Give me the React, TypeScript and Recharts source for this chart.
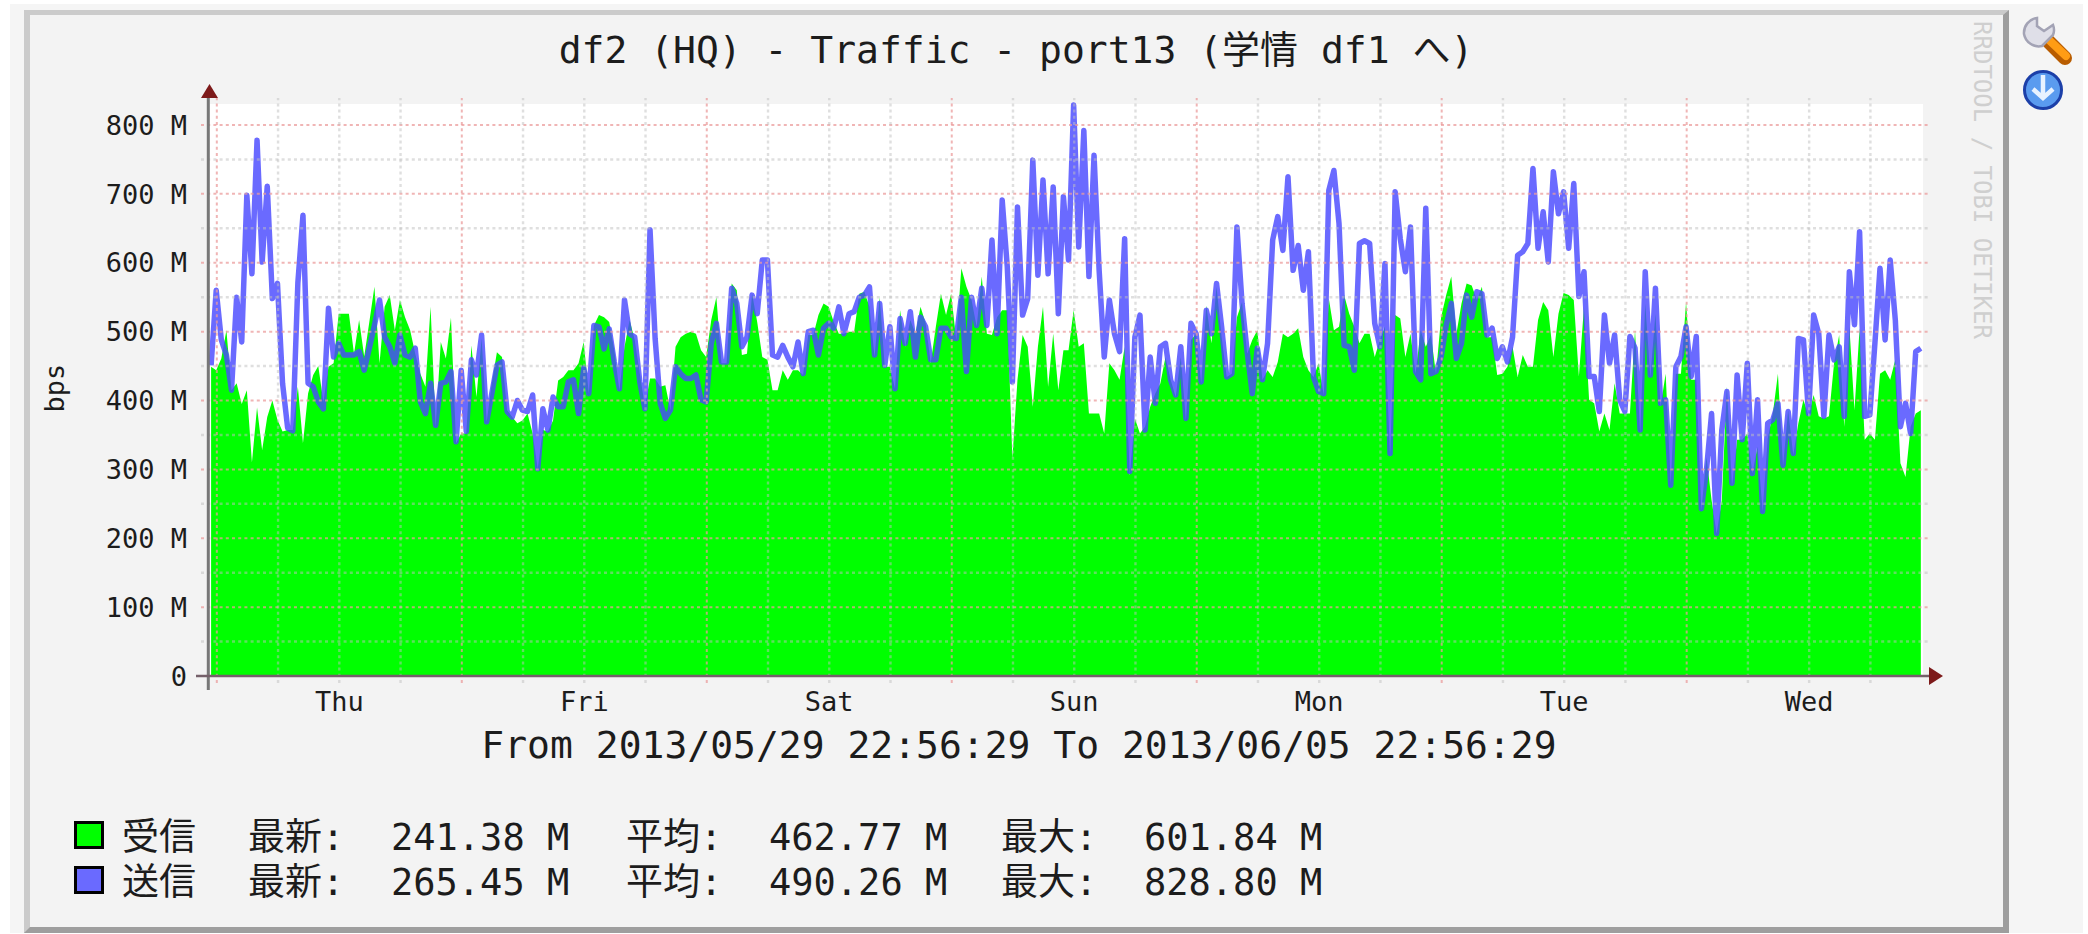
/**
 * Traffic graph for df2 port13, one week of receive/send bps.
 * Plot area is laid out by chart margins so the grid overshoots the white canvas like rrdtool does.
 */
import { ComposedChart, Area, Line, XAxis, YAxis, ReferenceLine } from "recharts";

const WIDTH = 2088;
const HEIGHT = 934;
const MONO = '"DejaVu Sans Mono", "Noto Sans CJK JP", monospace';

// 受信 (M bps), one reading per half hour
const received = [
  449, 444, 461, 502, 415, 425, 395, 415, 310, 390, 328, 376, 400, 372, 355, 357, 357, 420, 338, 410, 437, 450, 398,
  449, 454, 526, 526, 526, 468, 517, 464, 514, 565, 454, 536, 553, 502, 546, 521, 502, 468, 439, 420, 536, 362,
  485, 461, 520, 338, 352, 352, 480, 405, 490, 369, 425, 470, 463, 386, 376, 367, 371, 381, 352, 301, 357, 355, 371,
  429, 434, 444, 444, 454, 485, 410, 509, 524, 521, 514, 473, 415, 478, 517, 488, 439, 391,
  432, 432, 420, 422, 386, 478, 492, 497, 500, 497, 473, 463, 517, 550, 454, 454, 570, 560, 466, 468, 555, 514, 463,
  459, 415, 415, 444, 430, 444, 444, 437, 495, 495, 524, 541, 536, 514, 497, 497, 500, 500, 555, 558, 536, 463, 550,
  449, 449, 417, 531, 478, 517, 497, 536, 512, 454, 507, 555, 524, 555, 488, 592, 565, 546, 507, 580, 497, 495, 521,
  531, 531, 316, 430, 495, 478, 391, 478, 536, 420, 497, 415, 473, 473, 531, 478, 483, 381, 381, 381, 352, 454, 444, 430,
  478, 292, 374, 352, 362, 391, 410, 425, 463, 430, 405, 463, 371, 488, 497, 425, 538, 483, 565, 492, 434, 439, 521,
  543, 468, 488, 502, 430, 444, 434, 456, 497, 492, 497, 505, 463, 444, 434, 454, 408, 548, 502, 507, 553, 526, 507,
  483, 497, 497, 463, 488, 507, 318, 524, 519, 463, 497, 439, 502, 478, 495, 439, 521, 553, 580, 497, 541, 570, 567,
  546, 565, 492, 492, 437, 439, 449, 478, 434, 466, 449, 449, 517, 543, 531, 463, 526, 556, 553, 546, 435,
  536, 401, 396, 355, 381, 357, 425, 381, 381, 381, 502, 352, 541, 434, 526, 391, 439, 280, 439, 439, 543, 430, 430,
  241, 318, 255, 207, 255, 420, 275, 343, 343, 352, 294, 333, 239, 345, 381, 439, 304, 386, 321, 367, 401, 377, 408,
  377, 374, 377, 454, 495, 362, 507, 386, 505, 343, 352, 343, 439, 444, 430, 459, 309, 289, 362, 381, 386,
];

// 送信 (M bps)
const sent = [
  451, 560, 488, 466, 415, 550, 485, 698, 584, 778, 601, 711, 548, 570, 425, 360, 356, 571, 669, 425, 420, 398, 388,
  534, 463, 483, 466, 466, 466, 471, 444, 476, 509, 546, 492, 478, 454, 495, 466, 463, 476, 398, 381, 425, 364,
  425, 427, 442, 340, 444, 355, 459, 437, 495, 369, 410, 451, 456, 384, 376, 400, 386, 384, 408, 301, 388, 357, 405,
  391, 391, 427, 430, 381, 447, 410, 509, 507, 475, 504, 456, 417, 546, 497, 492, 427, 388,
  648, 490, 396, 374, 386, 449, 439, 432, 432, 437, 401, 398, 483, 512, 456, 456, 563, 541, 478, 492, 553, 526, 604,
  604, 466, 463, 480, 463, 449, 485, 439, 500, 502, 466, 505, 512, 505, 536, 497, 526, 529, 550, 553, 565, 466, 541,
  451, 507, 417, 519, 483, 529, 463, 521, 507, 459, 459, 505, 505, 492, 490, 550, 442, 550, 509, 563, 509, 633, 497,
  691, 594, 427, 681, 524, 548, 749, 582, 720, 584, 710, 526, 696, 604, 829, 623, 792, 580, 756, 589, 463, 546, 497, 471,
  635, 297, 492, 524, 357, 463, 396, 478, 483, 430, 408, 478, 374, 512, 497, 427, 531, 497, 570, 507, 434, 439, 652,
  541, 471, 410, 476, 430, 483, 633, 667, 618, 725, 589, 625, 560, 616, 434, 413, 410, 705, 734, 657, 480, 478, 444,
  628, 632, 628, 512, 478, 599, 323, 703, 635, 587, 652, 442, 430, 679, 439, 442, 463, 509, 541, 461, 483, 553, 521,
  558, 555, 495, 505, 461, 478, 456, 492, 611, 616, 628, 737, 621, 674, 601, 732, 671, 703, 621, 715, 551,
  587, 435, 435, 384, 524, 454, 495, 401, 384, 493, 476, 357, 587, 437, 563, 396, 401, 277, 449, 464, 507, 435, 493,
  243, 299, 381, 207, 357, 413, 280, 437, 343, 454, 294, 401, 239, 367, 372, 396, 306, 384, 323, 490, 488, 381, 524,
  497, 377, 495, 459, 478, 377, 587, 510, 645, 377, 379, 483, 592, 488, 604, 517, 362, 396, 352, 471, 476,
];

const dayLabels = ["Thu", "Fri", "Sat", "Sun", "Mon", "Tue", "Wed"];
const dayNoons = [13.06, 37.06, 61.06, 85.06, 109.06, 133.06, 157.06]; // hours after the start of the range
const midnights = [1.06, 25.06, 49.06, 73.06, 97.06, 121.06, 145.06];
const sixHourly = [
  7.06, 13.06, 19.06, 31.06, 37.06, 43.06, 55.06, 61.06, 67.06, 79.06, 85.06, 91.06, 103.06, 109.06, 115.06, 127.06,
  133.06, 139.06, 151.06, 157.06, 163.06,
];
const yLabelled = [0, 100, 200, 300, 400, 500, 600, 700, 800];
const yMinor = [50, 150, 250, 350, 450, 550, 650, 750];

const legendRows = [
  { swatch: "#00ff00", name: "受信", last: "241.38 M", avg: "462.77 M", max: "601.84 M", y: 837 },
  { swatch: "#6a6aff", name: "送信", last: "265.45 M", avg: "490.26 M", max: "828.80 M", y: 882 },
];

const rows = sent.map((v, i) => ({ hour: 0.5 + i * 0.5, sent: v, received: received[i] }));

const RED_GRID = { stroke: "#eb9c9c", strokeOpacity: 0.75, strokeWidth: 2, strokeDasharray: "3 3.2" };
const GREY_GRID = { stroke: "#c0c0c0", strokeOpacity: 0.5, strokeWidth: 2.4, strokeDasharray: "3 3.2" };

// plain <text>: the axis is only 1px wide, and the default tick would wrap "800 M"
function YTick({ x = 0, y = 0, payload }: { x?: number; y?: number; payload?: { value: number } }) {
  if (!payload) return null;
  return (
    <text x={x} y={y} dy="0.36em" textAnchor="end" fontFamily={MONO} fontSize={27} fill="#1c1c1c" style={{ whiteSpace: "pre" }}>
      {payload.value === 0 ? "0" : `${payload.value} M`}
    </text>
  );
}

function Label({ x, y, children, size = 37 }: { x: number; y: number; children: React.ReactNode; size?: number }) {
  return (
    <div
      style={{
        position: "absolute",
        left: x,
        top: y,
        transform: "translateY(-50%)",
        font: `${size}px ${MONO}`,
        color: "#1c1c1c",
        whiteSpace: "pre",
        lineHeight: 1,
      }}
    >
      {children}
    </div>
  );
}

function Wrench() {
  return (
    <svg style={{ position: "absolute", left: 2020, top: 14 }} width={54} height={52} viewBox="0 0 54 52">
      <path d="M28 27 L45 44" stroke="#b85c00" strokeWidth={14} strokeLinecap="round" />
      <path d="M29 26 L46 42" stroke="#ff9c14" strokeWidth={8} strokeLinecap="round" />
      <path
        d="M17 4 A15 15 0 0 0 4 20 A15 15 0 0 0 22 32 L33 21 A13 13 0 0 0 33 11 L24 17 L17 12 Z"
        fill="#dfdfe8"
        stroke="#a3a3b5"
        strokeWidth={2.5}
      />
    </svg>
  );
}

function DownloadIcon() {
  return (
    <svg style={{ position: "absolute", left: 2022, top: 69 }} width={42} height={42} viewBox="0 0 42 42">
      <circle cx={21} cy={21} r={18.5} fill="#5a9bef" stroke="#1c3fa8" strokeWidth={3} />
      <path d="M21 6 V28 M11 20 L21 29 L31 20" stroke="#e8f2ff" strokeWidth={4.5} fill="none" />
    </svg>
  );
}

export default function App() {
  return (
    <div style={{ position: "absolute", left: 0, top: 0, width: WIDTH, height: HEIGHT, background: "#fff", overflow: "hidden" }}>
      {/* page panel and raised frame */}
      <div style={{ position: "absolute", left: 10, top: 4, width: 2073, height: 929, background: "#f5f5f5" }} />
      <div
        style={{
          position: "absolute",
          left: 24,
          top: 10,
          width: 1973,
          height: 912,
          background: "#f3f3f3",
          borderStyle: "solid",
          borderWidth: "5px 6px 6px 6px",
          borderColor: "#cbcbcb #9e9e9e #9e9e9e #cbcbcb",
        }}
      />
      {/* white canvas behind the transparent chart */}
      <div style={{ position: "absolute", left: 210, top: 104, width: 1713, height: 572, background: "#fff" }} />

      <div style={{ position: "absolute", left: 0, top: 0 }}>
        <ComposedChart
          width={WIDTH}
          height={HEIGHT}
          data={rows}
          margin={{ top: 98, right: WIDTH - 1929, bottom: HEIGHT - 683 - 1, left: 200 }}
        >
          <XAxis
            dataKey="hour"
            type="number"
            scale="linear"
            domain={[-0.49, 168.8]}
            allowDataOverflow
            height={1}
            ticks={dayNoons}
            interval={0}
            axisLine={false}
            tickLine={false}
            tickSize={0}
            tickMargin={9}
            tickFormatter={(h: number) => dayLabels[dayNoons.indexOf(h)]}
            tick={{ fontFamily: MONO, fontSize: 27, fill: "#1c1c1c" }}
          />
          <YAxis
            type="number"
            domain={[-10.16, 839.2]}
            allowDataOverflow
            width={1}
            ticks={yLabelled}
            interval={0}
            axisLine={false}
            tickLine={false}
            tickSize={0}
            tickMargin={14}
            tick={<YTick />}
          />
          <Area
            dataKey="received"
            type="linear"
            fill="#00ff00"
            fillOpacity={1}
            stroke="none"
            dot={false}
            activeDot={false}
            isAnimationActive={false}
          />
          <Line
            dataKey="sent"
            type="linear"
            stroke="#4949ff"
            strokeOpacity={0.82}
            strokeWidth={5.5}
            strokeLinejoin="round"
            dot={false}
            activeDot={false}
            isAnimationActive={false}
          />
          {yMinor.map((v) => (
            <ReferenceLine key={`ym${v}`} y={v} {...GREY_GRID} ifOverflow="visible" />
          ))}
          {yLabelled.map((v) => (
            <ReferenceLine key={`y${v}`} y={v} {...RED_GRID} ifOverflow="visible" />
          ))}
          {sixHourly.map((h) => (
            <ReferenceLine key={`x${h}`} x={h} {...GREY_GRID} ifOverflow="visible" />
          ))}
          {midnights.map((h) => (
            <ReferenceLine key={`d${h}`} x={h} {...RED_GRID} ifOverflow="visible" />
          ))}
        </ComposedChart>
      </div>

      {/* rrdtool's axis lines and arrowheads */}
      <svg style={{ position: "absolute", left: 0, top: 0, pointerEvents: "none" }} width={WIDTH} height={HEIGHT}>
        <line x1={208.3} y1={96} x2={208.3} y2={690} stroke="#777" strokeWidth={3} />
        <line x1={196} y1={676} x2={1932} y2={676} stroke="#75606a" strokeWidth={2.5} />
        <polygon points="201,98 218,98 209.5,84" fill="#7d1a1a" />
        <polygon points="1929,667 1929,685 1943,676" fill="#7d1a1a" />
      </svg>

      <div style={{ position: "absolute", left: 0, width: 2032, top: 50, transform: "translateY(-50%)", textAlign: "center", font: `38px ${MONO}`, color: "#1c1c1c", whiteSpace: "pre", lineHeight: 1 }}>
        df2 (HQ) - Traffic - port13 (学情 df1 へ)
      </div>
      <div style={{ position: "absolute", left: 0, width: 2038, top: 745, transform: "translateY(-50%)", textAlign: "center", font: `38px ${MONO}`, color: "#1c1c1c", whiteSpace: "pre", lineHeight: 1 }}>
        From 2013/05/29 22:56:29 To 2013/06/05 22:56:29
      </div>
      <div style={{ position: "absolute", left: 54, top: 388, transform: "translate(-50%,-50%) rotate(-90deg)", font: `27px ${MONO}`, color: "#1c1c1c" }}>bps</div>
      <div style={{ position: "absolute", left: 1982, top: 180, transform: "translate(-50%,-50%) rotate(90deg)", font: `24px ${MONO}`, color: "#cfcfcf", whiteSpace: "pre" }}>
        RRDTOOL / TOBI OETIKER
      </div>

      {legendRows.map((row) => (
        <div key={row.name}>
          <div
            style={{
              position: "absolute",
              left: 74,
              top: row.y - 16,
              width: 24,
              height: 22,
              background: row.swatch,
              border: "3px solid #000",
            }}
          />
          <Label x={122} y={row.y}>{row.name}</Label>
          <Label x={248} y={row.y}>最新:</Label>
          <Label x={391} y={row.y}>{row.last}</Label>
          <Label x={626} y={row.y}>平均:</Label>
          <Label x={769} y={row.y}>{row.avg}</Label>
          <Label x={1001} y={row.y}>最大:</Label>
          <Label x={1144} y={row.y}>{row.max}</Label>
        </div>
      ))}

      <Wrench />
      <DownloadIcon />
    </div>
  );
}
